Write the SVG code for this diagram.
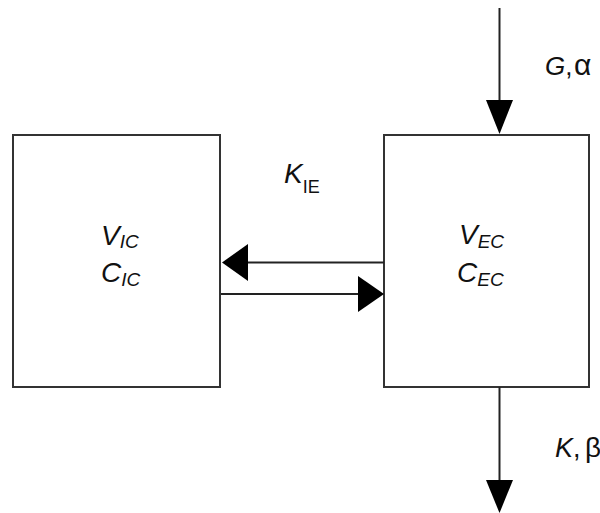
<svg xmlns="http://www.w3.org/2000/svg" width="600" height="513" viewBox="0 0 600 513">
<style>
.box{fill:#fff;stroke:#333;stroke-width:2}
.ln{stroke:#222;stroke-width:2;fill:none}
.hd{fill:#000}
.t{font-family:"Liberation Sans",Arial,sans-serif;fill:#111}
.it{font-style:italic}
</style>
<rect width="600" height="513" fill="#fff"/>
<g id="node-ic">
<rect class="box" x="13" y="135" width="207" height="252"/>
<text class="t it" x="101" y="245" font-size="28">V<tspan font-size="19" dy="3">IC</tspan></text>
<text class="t it" x="101" y="282" font-size="28">C<tspan font-size="19" dy="4">IC</tspan></text>
</g>
<g id="node-ec">
<rect class="box" x="384" y="135" width="205" height="252"/>
<text class="t it" x="459" y="244" font-size="28">V<tspan font-size="19" dy="4">EC</tspan></text>
<text class="t it" x="457" y="282" font-size="28">C<tspan font-size="19" dy="4">EC</tspan></text>
</g>
<g id="connectors">
<line class="ln" x1="499.5" y1="8" x2="499.5" y2="102"/>
<polygon class="hd" points="486,100 513,100 499.5,134"/>
<line class="ln" x1="499.5" y1="387" x2="499.5" y2="482"/>
<polygon class="hd" points="486,480 513,480 499.5,513"/>
<line class="ln" x1="384" y1="262.5" x2="246" y2="262.5"/>
<polygon class="hd" points="248,244 248,281 222,262.5"/>
<line class="ln" x1="221" y1="294" x2="360" y2="294"/>
<polygon class="hd" points="358,276 358,312 384,294"/>
</g>
<g id="labels">
<text class="t" x="545" y="75" font-size="26"><tspan font-style="italic">G</tspan>,<tspan x="574" font-size="30">α</tspan></text>
<text class="t" x="555" y="457" font-size="27"><tspan font-style="italic">K</tspan>,<tspan x="585" font-size="28">β</tspan></text>
<text class="t it" x="284" y="183" font-size="28">K<tspan font-style="normal" font-size="18" dy="10">IE</tspan></text>
</g>
</svg>
